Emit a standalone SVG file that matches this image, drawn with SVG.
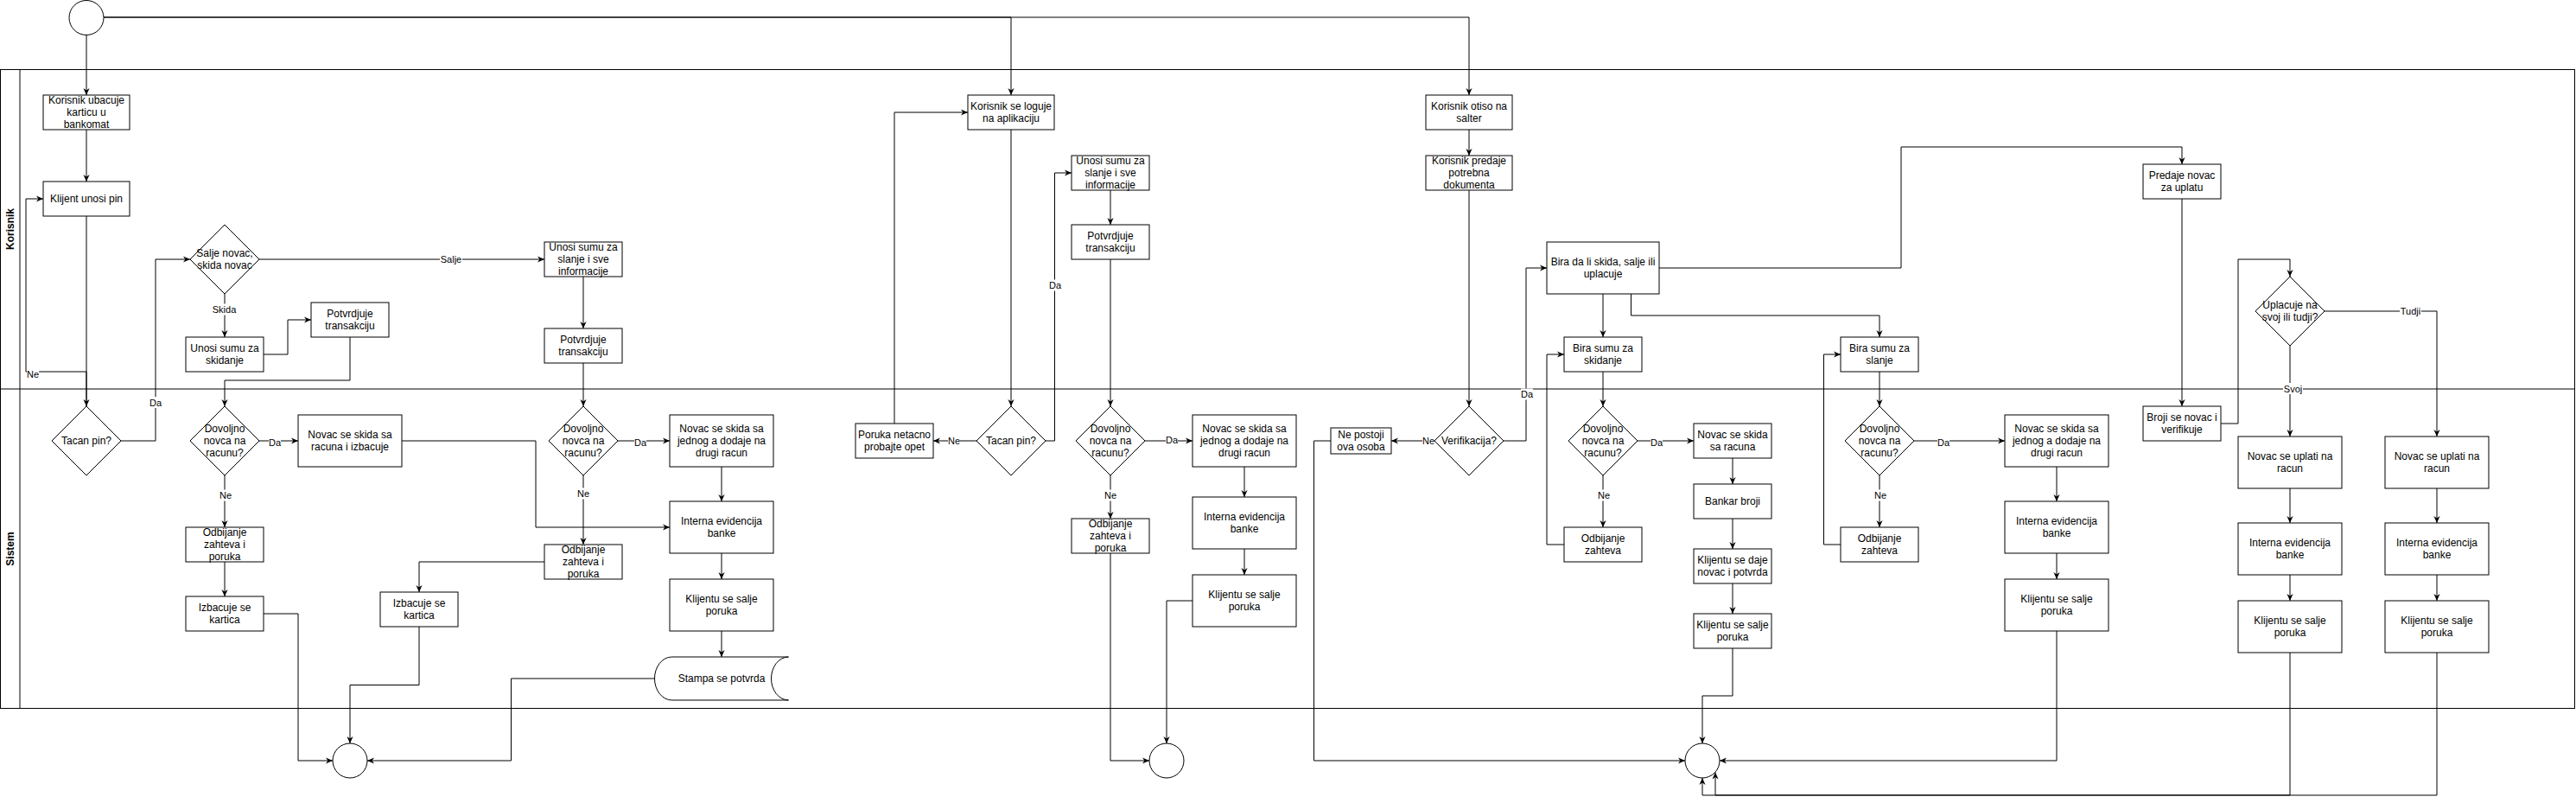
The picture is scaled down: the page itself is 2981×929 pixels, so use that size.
<svg xmlns="http://www.w3.org/2000/svg" width="2981" height="929" viewBox="0 0 2981 929">
<style>
.n{fill:#fff;stroke:#000;stroke-width:1}
.t{font-family:"Liberation Sans",Arial,Helvetica,sans-serif;font-size:12px;text-anchor:middle;dominant-baseline:central;fill:#000}
.h{font-family:"Liberation Sans",Arial,Helvetica,sans-serif;font-size:12px;font-weight:bold;text-anchor:middle;dominant-baseline:central;fill:#000}
.e{fill:none;stroke:#000;stroke-width:1;marker-end:url(#a)}
.p{fill:none;stroke:#000;stroke-width:1}
.lb{font-family:"Liberation Sans",Arial,Helvetica,sans-serif;font-size:11px;text-anchor:middle;dominant-baseline:central;fill:#000}
.bg{fill:#fff;stroke:none}
</style>
<defs>
<marker id="a" markerUnits="userSpaceOnUse" markerWidth="8" markerHeight="8" viewBox="0 0 10 10" refX="10" refY="5" orient="auto"><path d="M0,0.5 L10,5 L0,9.5 L3,5 Z" fill="#000"/></marker>
</defs>
<rect width="2981" height="929" fill="#fff"/>
<g id="pool">
<rect class="p" x="0.5" y="80.5" width="2979" height="739"/>
<line class="p" x1="23" y1="80" x2="23" y2="820"/>
<line class="p" x1="0" y1="450" x2="2980" y2="450"/>
<text class="h" transform="translate(11.5,265) rotate(-90)">Korisnik</text>
<text class="h" transform="translate(11.5,635) rotate(-90)">Sistem</text>
</g>
<g id="connectors">
<path class="e" d="M100,40 V110"/>
<path class="e" d="M120,20 H1170 V110"/>
<path class="e" d="M120,20 H1700 V110"/>
<path class="e" d="M100,150 V210"/>
<path class="e" d="M100,250 V470"/>
<path class="e" d="M100,470 V430 H30 V230 H50"/>
<path class="e" d="M140,510 H180 V300 H220"/>
<path class="e" d="M300,300 H630"/>
<path class="e" d="M260,340 V390"/>
<path class="e" d="M305,410 H333 V370 H360"/>
<path class="e" d="M405,390 V440 H260 V470"/>
<path class="e" d="M675,320 V380"/>
<path class="e" d="M675,420 V470"/>
<path class="e" d="M300,510 H345"/>
<path class="e" d="M260,550 V610"/>
<path class="e" d="M260,650 V690"/>
<path class="e" d="M305,710 H345 V880 H385"/>
<path class="e" d="M465,510 H620 V610 H775"/>
<path class="e" d="M715,510 H775"/>
<path class="e" d="M675,550 V630"/>
<path class="e" d="M630,650 H485 V685"/>
<path class="e" d="M485,725 V792.5 H405 V860"/>
<path class="e" d="M835,540 V580"/>
<path class="e" d="M835,640 V670"/>
<path class="e" d="M835,730 V760"/>
<path class="e" d="M757.5,785 H591.5 V880 H425"/>
<path class="e" d="M1170,150 V470"/>
<path class="e" d="M1130,510 H1080"/>
<path class="e" d="M1035,490 V130 H1120"/>
<path class="e" d="M1210,510 H1220.5 V200 H1240"/>
<path class="e" d="M1285,220 V260"/>
<path class="e" d="M1285,300 V470"/>
<path class="e" d="M1325,510 H1380"/>
<path class="e" d="M1285,550 V600"/>
<path class="e" d="M1440,540 V575"/>
<path class="e" d="M1440,635 V665"/>
<path class="e" d="M1380,695 H1350 V860"/>
<path class="e" d="M1285,640 V880 H1330"/>
<path class="e" d="M1700,150 V180"/>
<path class="e" d="M1700,220 V470"/>
<path class="e" d="M1660,510 H1610"/>
<path class="e" d="M1540,510 H1520.5 V880 H1950"/>
<path class="e" d="M1740,510 H1766 V310 H1790"/>
<path class="e" d="M1855,340 V390"/>
<path class="e" d="M1887.5,340 V365 H2175 V390"/>
<path class="e" d="M1920,310 H2200 V170 H2525 V190"/>
<path class="e" d="M1855,430 V470"/>
<path class="e" d="M1895,510 H1960"/>
<path class="e" d="M1855,550 V610"/>
<path class="e" d="M1810,630 H1790 V410 H1810"/>
<path class="e" d="M2005,530 V560"/>
<path class="e" d="M2005,600 V635"/>
<path class="e" d="M2005,675 V710"/>
<path class="e" d="M2005,750 V805 H1970 V860"/>
<path class="e" d="M2175,430 V470"/>
<path class="e" d="M2215,510 H2320"/>
<path class="e" d="M2175,550 V610"/>
<path class="e" d="M2130,630 H2110.5 V410 H2130"/>
<path class="e" d="M2380,540 V580"/>
<path class="e" d="M2380,640 V670"/>
<path class="e" d="M2380,730 V880 H1990"/>
<path class="e" d="M2525,230 V470"/>
<path class="e" d="M2570,490 H2590 V300 H2650 V320"/>
<path class="e" d="M2650,400 V505"/>
<path class="e" d="M2690,360 H2820 V505"/>
<path class="e" d="M2650,565 V605"/>
<path class="e" d="M2650,665 V695"/>
<path class="e" d="M2820,565 V605"/>
<path class="e" d="M2820,665 V695"/>
<path class="e" d="M2650,755 V920 H1985 V893.5"/>
<path class="e" d="M2820,755 V920 H1970 V900"/>
<g id="edge-labels">
<rect class="bg" x="31" y="426" width="14" height="13"/><text class="lb" x="38" y="432.5">Ne</text>
<rect class="bg" x="173" y="459" width="14" height="13"/><text class="lb" x="180" y="465.5">Da</text>
<rect class="bg" x="509" y="293.5" width="26" height="13"/><text class="lb" x="522" y="300">Salje</text>
<rect class="bg" x="246" y="351.5" width="27" height="13"/><text class="lb" x="259.5" y="358">Skida</text>
<rect class="bg" x="311" y="505" width="14" height="13"/><text class="lb" x="318" y="511.5">Da</text>
<rect class="bg" x="254" y="566.5" width="14" height="13"/><text class="lb" x="261" y="573">Ne</text>
<rect class="bg" x="734" y="505" width="14" height="13"/><text class="lb" x="741" y="511.5">Da</text>
<rect class="bg" x="668" y="564.5" width="14" height="13"/><text class="lb" x="675" y="571">Ne</text>
<rect class="bg" x="1097" y="503.5" width="14" height="13"/><text class="lb" x="1104" y="510">Ne</text>
<rect class="bg" x="1214" y="323.5" width="14" height="13"/><text class="lb" x="1221" y="330">Da</text>
<rect class="bg" x="1349" y="502.5" width="14" height="13"/><text class="lb" x="1356" y="509">Da</text>
<rect class="bg" x="1278" y="566.5" width="14" height="13"/><text class="lb" x="1285" y="573">Ne</text>
<rect class="bg" x="1646" y="503.5" width="14" height="13"/><text class="lb" x="1653" y="510">Ne</text>
<rect class="bg" x="1760" y="449.5" width="14" height="13"/><text class="lb" x="1767" y="456">Da</text>
<rect class="bg" x="1910" y="505" width="14" height="13"/><text class="lb" x="1917" y="511.5">Da</text>
<rect class="bg" x="1849" y="566.5" width="14" height="13"/><text class="lb" x="1856" y="573">Ne</text>
<rect class="bg" x="2242" y="505" width="14" height="13"/><text class="lb" x="2249" y="511.5">Da</text>
<rect class="bg" x="2169" y="566.5" width="14" height="13"/><text class="lb" x="2176" y="573">Ne</text>
<rect class="bg" x="2642" y="443" width="23" height="13"/><text class="lb" x="2653.5" y="449.5">Svoj</text>
<rect class="bg" x="2777" y="353.5" width="25" height="13"/><text class="lb" x="2789.5" y="360">Tudji</text>
</g>
</g>
<g id="start"><circle class="n" cx="100" cy="20.5" r="20"/></g>
<g id="n1"><rect class="n" x="50" y="110" width="100" height="40"/><text class="t"><tspan x="100" y="115.6">Korisnik ubacuje</tspan><tspan x="100" y="130">karticu u</tspan><tspan x="100" y="144.4">bankomat</tspan></text></g>
<g id="n2"><rect class="n" x="50" y="210" width="100" height="40"/><text class="t" x="100" y="230">Klijent unosi pin</text></g>
<g id="d1"><path class="n" d="M60,510 L100,470 L140,510 L100,550 Z"/><text class="t" x="100" y="510">Tacan pin?</text></g>
<g id="d2"><path class="n" d="M220,300 L260,260 L300,300 L260,340 Z"/><text class="t"><tspan x="260" y="292.8">Salje novac,</tspan><tspan x="260" y="307.2">skida novac</tspan></text></g>
<g id="n3"><rect class="n" x="215" y="390" width="90" height="40"/><text class="t"><tspan x="260" y="402.8">Unosi sumu za</tspan><tspan x="260" y="417.2">skidanje</tspan></text></g>
<g id="n4"><rect class="n" x="360" y="350" width="90" height="40"/><text class="t"><tspan x="405" y="362.8">Potvrdjuje</tspan><tspan x="405" y="377.2">transakciju</tspan></text></g>
<g id="n5"><rect class="n" x="630" y="280" width="90" height="40"/><text class="t"><tspan x="675" y="285.6">Unosi sumu za</tspan><tspan x="675" y="300">slanje i sve</tspan><tspan x="675" y="314.4">informacije</tspan></text></g>
<g id="n6"><rect class="n" x="630" y="380" width="90" height="40"/><text class="t"><tspan x="675" y="392.8">Potvrdjuje</tspan><tspan x="675" y="407.2">transakciju</tspan></text></g>
<g id="d3"><path class="n" d="M220,510 L260,470 L300,510 L260,550 Z"/><text class="t"><tspan x="260" y="495.6">Dovoljno</tspan><tspan x="260" y="510">novca na</tspan><tspan x="260" y="524.4">racunu?</tspan></text></g>
<g id="n7"><rect class="n" x="345" y="480" width="120" height="60"/><text class="t"><tspan x="405" y="502.8">Novac se skida sa</tspan><tspan x="405" y="517.2">racuna i izbacuje</tspan></text></g>
<g id="n8"><rect class="n" x="215" y="610" width="90" height="40"/><text class="t"><tspan x="260" y="615.6">Odbijanje</tspan><tspan x="260" y="630">zahteva i</tspan><tspan x="260" y="644.4">poruka</tspan></text></g>
<g id="n9"><rect class="n" x="215" y="690" width="90" height="40"/><text class="t"><tspan x="260" y="702.8">Izbacuje se</tspan><tspan x="260" y="717.2">kartica</tspan></text></g>
<g id="end1"><circle class="n" cx="405" cy="880" r="20"/></g>
<g id="d4"><path class="n" d="M635,510 L675,470 L715,510 L675,550 Z"/><text class="t"><tspan x="675" y="495.6">Dovoljno</tspan><tspan x="675" y="510">novca na</tspan><tspan x="675" y="524.4">racunu?</tspan></text></g>
<g id="n10"><rect class="n" x="775" y="480" width="120" height="60"/><text class="t"><tspan x="835" y="495.6">Novac se skida sa</tspan><tspan x="835" y="510">jednog a dodaje na</tspan><tspan x="835" y="524.4">drugi racun</tspan></text></g>
<g id="n11"><rect class="n" x="630" y="630" width="90" height="40"/><text class="t"><tspan x="675" y="635.6">Odbijanje</tspan><tspan x="675" y="650">zahteva i</tspan><tspan x="675" y="664.4">poruka</tspan></text></g>
<g id="n12"><rect class="n" x="440" y="685" width="90" height="40"/><text class="t"><tspan x="485" y="697.8">Izbacuje se</tspan><tspan x="485" y="712.2">kartica</tspan></text></g>
<g id="n13"><rect class="n" x="775" y="580" width="120" height="60"/><text class="t"><tspan x="835" y="602.8">Interna evidencija</tspan><tspan x="835" y="617.2">banke</tspan></text></g>
<g id="n14"><rect class="n" x="775" y="670" width="120" height="60"/><text class="t"><tspan x="835" y="692.8">Klijentu se salje</tspan><tspan x="835" y="707.2">poruka</tspan></text></g>
<g id="n15"><path class="n" d="M777.5,760 H912.5 A20,25 0 0 0 892.5,785 A20,25 0 0 0 912.5,810 H777.5 A20,25 0 0 1 757.5,785 A20,25 0 0 1 777.5,760 Z"/><text class="t" x="835" y="785">Stampa se potvrda</text></g>
<g id="n16"><rect class="n" x="990" y="490" width="90" height="40"/><text class="t"><tspan x="1035" y="502.8">Poruka netacno</tspan><tspan x="1035" y="517.2">probajte opet</tspan></text></g>
<g id="d5"><path class="n" d="M1130,510 L1170,470 L1210,510 L1170,550 Z"/><text class="t" x="1170" y="510">Tacan pin?</text></g>
<g id="n17"><rect class="n" x="1120" y="110" width="100" height="40"/><text class="t"><tspan x="1170" y="122.8">Korisnik se loguje</tspan><tspan x="1170" y="137.2">na aplikaciju</tspan></text></g>
<g id="n18"><rect class="n" x="1240" y="180" width="90" height="40"/><text class="t"><tspan x="1285" y="185.6">Unosi sumu za</tspan><tspan x="1285" y="200">slanje i sve</tspan><tspan x="1285" y="214.4">informacije</tspan></text></g>
<g id="n19"><rect class="n" x="1240" y="260" width="90" height="40"/><text class="t"><tspan x="1285" y="272.8">Potvrdjuje</tspan><tspan x="1285" y="287.2">transakciju</tspan></text></g>
<g id="d6"><path class="n" d="M1245,510 L1285,470 L1325,510 L1285,550 Z"/><text class="t"><tspan x="1285" y="495.6">Dovoljno</tspan><tspan x="1285" y="510">novca na</tspan><tspan x="1285" y="524.4">racunu?</tspan></text></g>
<g id="n20"><rect class="n" x="1380" y="480" width="120" height="60"/><text class="t"><tspan x="1440" y="495.6">Novac se skida sa</tspan><tspan x="1440" y="510">jednog a dodaje na</tspan><tspan x="1440" y="524.4">drugi racun</tspan></text></g>
<g id="n21"><rect class="n" x="1240" y="600" width="90" height="40"/><text class="t"><tspan x="1285" y="605.6">Odbijanje</tspan><tspan x="1285" y="620">zahteva i</tspan><tspan x="1285" y="634.4">poruka</tspan></text></g>
<g id="n22"><rect class="n" x="1380" y="575" width="120" height="60"/><text class="t"><tspan x="1440" y="597.8">Interna evidencija</tspan><tspan x="1440" y="612.2">banke</tspan></text></g>
<g id="n23"><rect class="n" x="1380" y="665" width="120" height="60"/><text class="t"><tspan x="1440" y="687.8">Klijentu se salje</tspan><tspan x="1440" y="702.2">poruka</tspan></text></g>
<g id="end2"><circle class="n" cx="1350" cy="880" r="20"/></g>
<g id="n24"><rect class="n" x="1650" y="110" width="100" height="40"/><text class="t"><tspan x="1700" y="122.8">Korisnik otiso na</tspan><tspan x="1700" y="137.2">salter</tspan></text></g>
<g id="n25"><rect class="n" x="1650" y="180" width="100" height="40"/><text class="t"><tspan x="1700" y="185.6">Korisnik predaje</tspan><tspan x="1700" y="200">potrebna</tspan><tspan x="1700" y="214.4">dokumenta</tspan></text></g>
<g id="d7"><path class="n" d="M1660,510 L1700,470 L1740,510 L1700,550 Z"/><text class="t" x="1700" y="510">Verifikacija?</text></g>
<g id="n26"><rect class="n" x="1540" y="495" width="70" height="30"/><text class="t"><tspan x="1575" y="502.8">Ne postoji</tspan><tspan x="1575" y="517.2">ova osoba</tspan></text></g>
<g id="n27"><rect class="n" x="1790" y="280" width="130" height="60"/><text class="t"><tspan x="1855" y="302.8">Bira da li skida, salje ili</tspan><tspan x="1855" y="317.2">uplacuje</tspan></text></g>
<g id="n28"><rect class="n" x="1810" y="390" width="90" height="40"/><text class="t"><tspan x="1855" y="402.8">Bira sumu za</tspan><tspan x="1855" y="417.2">skidanje</tspan></text></g>
<g id="d8"><path class="n" d="M1815,510 L1855,470 L1895,510 L1855,550 Z"/><text class="t"><tspan x="1855" y="495.6">Dovoljno</tspan><tspan x="1855" y="510">novca na</tspan><tspan x="1855" y="524.4">racunu?</tspan></text></g>
<g id="n29"><rect class="n" x="1810" y="610" width="90" height="40"/><text class="t"><tspan x="1855" y="622.8">Odbijanje</tspan><tspan x="1855" y="637.2">zahteva</tspan></text></g>
<g id="n30"><rect class="n" x="1960" y="490" width="90" height="40"/><text class="t"><tspan x="2005" y="502.8">Novac se skida</tspan><tspan x="2005" y="517.2">sa racuna</tspan></text></g>
<g id="n31"><rect class="n" x="1960" y="560" width="90" height="40"/><text class="t" x="2005" y="580">Bankar broji</text></g>
<g id="n32"><rect class="n" x="1960" y="635" width="90" height="40"/><text class="t"><tspan x="2005" y="647.8">Klijentu se daje</tspan><tspan x="2005" y="662.2">novac i potvrda</tspan></text></g>
<g id="n33"><rect class="n" x="1960" y="710" width="90" height="40"/><text class="t"><tspan x="2005" y="722.8">Klijentu se salje</tspan><tspan x="2005" y="737.2">poruka</tspan></text></g>
<g id="end3"><circle class="n" cx="1970" cy="880" r="20"/></g>
<g id="n34"><rect class="n" x="2130" y="390" width="90" height="40"/><text class="t"><tspan x="2175" y="402.8">Bira sumu za</tspan><tspan x="2175" y="417.2">slanje</tspan></text></g>
<g id="d9"><path class="n" d="M2135,510 L2175,470 L2215,510 L2175,550 Z"/><text class="t"><tspan x="2175" y="495.6">Dovoljno</tspan><tspan x="2175" y="510">novca na</tspan><tspan x="2175" y="524.4">racunu?</tspan></text></g>
<g id="n35"><rect class="n" x="2130" y="610" width="90" height="40"/><text class="t"><tspan x="2175" y="622.8">Odbijanje</tspan><tspan x="2175" y="637.2">zahteva</tspan></text></g>
<g id="n36"><rect class="n" x="2320" y="480" width="120" height="60"/><text class="t"><tspan x="2380" y="495.6">Novac se skida sa</tspan><tspan x="2380" y="510">jednog a dodaje na</tspan><tspan x="2380" y="524.4">drugi racun</tspan></text></g>
<g id="n37"><rect class="n" x="2320" y="580" width="120" height="60"/><text class="t"><tspan x="2380" y="602.8">Interna evidencija</tspan><tspan x="2380" y="617.2">banke</tspan></text></g>
<g id="n38"><rect class="n" x="2320" y="670" width="120" height="60"/><text class="t"><tspan x="2380" y="692.8">Klijentu se salje</tspan><tspan x="2380" y="707.2">poruka</tspan></text></g>
<g id="n39"><rect class="n" x="2480" y="190" width="90" height="40"/><text class="t"><tspan x="2525" y="202.8">Predaje novac</tspan><tspan x="2525" y="217.2">za uplatu</tspan></text></g>
<g id="n40"><rect class="n" x="2480" y="470" width="90" height="40"/><text class="t"><tspan x="2525" y="482.8">Broji se novac i</tspan><tspan x="2525" y="497.2">verifikuje</tspan></text></g>
<g id="d10"><path class="n" d="M2610,360 L2650,320 L2690,360 L2650,400 Z"/><text class="t"><tspan x="2650" y="352.8">Uplacuje na</tspan><tspan x="2650" y="367.2">svoj ili tudji?</tspan></text></g>
<g id="n41"><rect class="n" x="2590" y="505" width="120" height="60"/><text class="t"><tspan x="2650" y="527.8">Novac se uplati na</tspan><tspan x="2650" y="542.2">racun</tspan></text></g>
<g id="n42"><rect class="n" x="2590" y="605" width="120" height="60"/><text class="t"><tspan x="2650" y="627.8">Interna evidencija</tspan><tspan x="2650" y="642.2">banke</tspan></text></g>
<g id="n43"><rect class="n" x="2590" y="695" width="120" height="60"/><text class="t"><tspan x="2650" y="717.8">Klijentu se salje</tspan><tspan x="2650" y="732.2">poruka</tspan></text></g>
<g id="n44"><rect class="n" x="2760" y="505" width="120" height="60"/><text class="t"><tspan x="2820" y="527.8">Novac se uplati na</tspan><tspan x="2820" y="542.2">racun</tspan></text></g>
<g id="n45"><rect class="n" x="2760" y="605" width="120" height="60"/><text class="t"><tspan x="2820" y="627.8">Interna evidencija</tspan><tspan x="2820" y="642.2">banke</tspan></text></g>
<g id="n46"><rect class="n" x="2760" y="695" width="120" height="60"/><text class="t"><tspan x="2820" y="717.8">Klijentu se salje</tspan><tspan x="2820" y="732.2">poruka</tspan></text></g>
</svg>
